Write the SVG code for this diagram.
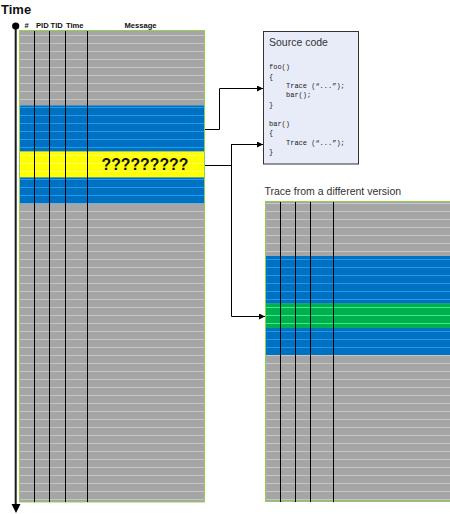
<svg xmlns="http://www.w3.org/2000/svg" width="450" height="514" viewBox="0 0 450 514">
  <style>
    .hdr { font-family: "Liberation Sans", Arial, sans-serif; font-weight: bold; font-size: 7.6px; fill: #111; }
    .title { font-family: "Liberation Sans", Arial, sans-serif; font-size: 10.5px; fill: #333; }
    .code { font-family: "Liberation Mono", "DejaVu Sans Mono", monospace; font-size: 7px; fill: #222; }
    .col { stroke: #000; stroke-width: 1; }
    .border { fill: none; stroke: #92d050; stroke-width: 1; }
    .conn { fill: none; stroke: #000; stroke-width: 1; }
  </style>
  <defs>
    <pattern id="pGray" patternUnits="userSpaceOnUse" x="0" y="0" width="8" height="8">
      <rect width="8" height="8" fill="#a5a5a5"/>
      <rect y="3" width="8" height="1" fill="#c6c6c6"/>
    </pattern>
    <pattern id="pBlue" patternUnits="userSpaceOnUse" x="0" y="0" width="8" height="8">
      <rect width="8" height="8" fill="#0070c0"/>
      <rect y="3" width="8" height="1" fill="#1a9cf5"/>
    </pattern>
    <pattern id="pYellow" patternUnits="userSpaceOnUse" x="0" y="0" width="8" height="8">
      <rect width="8" height="8" fill="#ffff00"/>
      <rect y="3" width="8" height="1" fill="#ffff59"/>
    </pattern>
    <pattern id="pGreen" patternUnits="userSpaceOnUse" x="0" y="0" width="8" height="8">
      <rect width="8" height="8" fill="#00b050"/>
      <rect y="3" width="8" height="1" fill="#3af07a"/>
    </pattern>
    <marker id="arr" markerUnits="userSpaceOnUse" markerWidth="7" markerHeight="7" refX="6" refY="3" orient="auto">
      <path d="M0,0 L6,3 L0,6 z" fill="#000"/>
    </marker>
  </defs>

  <g id="time-axis">
    <text x="1" y="13.5" style="font-family:'Liberation Sans',Arial,sans-serif;font-weight:bold;font-size:13px;fill:#111">Time</text>
    <line x1="15.7" y1="26" x2="15.7" y2="505" stroke="#1a1a1a" stroke-width="2"/>
    <circle cx="15.7" cy="26" r="3.6" fill="#000"/>
    <path d="M11.5,504 L20.5,504 L16,513 z" fill="#000"/>
  </g>

  <g id="trace-main">
    <rect x="19" y="30" width="186" height="472" fill="url(#pGray)"/>
    <rect x="19" y="105.5" width="186" height="46" fill="url(#pBlue)"/>
    <rect x="19" y="151.5" width="186" height="26" fill="url(#pYellow)"/>
    <rect x="19" y="177.5" width="186" height="26" fill="url(#pBlue)"/>
    <rect class="border" x="19.5" y="30.5" width="185" height="471.5"/>
    <line class="col" x1="34.5" y1="31" x2="34.5" y2="502"/>
    <line class="col" x1="49.5" y1="31" x2="49.5" y2="502"/>
    <line class="col" x1="65.5" y1="31" x2="65.5" y2="502"/>
    <line class="col" x1="87.5" y1="31" x2="87.5" y2="502"/>
    <text class="hdr" x="24.5" y="27.5">#</text>
    <text class="hdr" x="36" y="27.5">PID</text>
    <text class="hdr" x="50.5" y="27.5">TID</text>
    <text class="hdr" x="66" y="27.5">Time</text>
    <text class="hdr" x="124.5" y="27.5">Message</text>
    <text x="101.5" y="169.5" style="font-family:'Liberation Sans',Arial,sans-serif;font-weight:bold;font-size:15.8px;fill:#111">?????????</text>
  </g>

  <g id="source-code">
    <rect x="263.5" y="31.5" width="95" height="132.5" fill="#e8ecf8" stroke="#333" stroke-width="1"/>
    <text class="title" x="269" y="46">Source code</text>
    <text class="code" x="269" y="69">foo()</text>
    <text class="code" x="269" y="78.5">{</text>
    <text class="code" x="286" y="88">Trace (“...”);</text>
    <text class="code" x="286" y="97">bar();</text>
    <text class="code" x="269" y="106.5">}</text>
    <text class="code" x="269" y="125.5">bar()</text>
    <text class="code" x="269" y="135">{</text>
    <text class="code" x="286" y="144.5">Trace (“...”);</text>
    <text class="code" x="269" y="154">}</text>
  </g>

  <g id="trace-other">
    <text class="title" x="264.5" y="195">Trace from a different version</text>
    <rect x="265" y="201" width="185" height="301" fill="url(#pGray)"/>
    <rect x="265" y="256" width="185" height="47.5" fill="url(#pBlue)"/>
    <rect x="265" y="303.5" width="185" height="24.5" fill="url(#pGreen)"/>
    <rect x="265" y="328" width="185" height="27" fill="url(#pBlue)"/>
    <path class="border" d="M450,201.5 H265.5 V501.5 H450"/>
    <line class="col" x1="280.5" y1="202" x2="280.5" y2="502"/>
    <line class="col" x1="295.5" y1="202" x2="295.5" y2="502"/>
    <line class="col" x1="310.5" y1="202" x2="310.5" y2="502"/>
    <line class="col" x1="333.5" y1="202" x2="333.5" y2="502"/>
  </g>

  <g id="connectors">
    <path class="conn" d="M205,129.5 H219.5 V88.5 H263" marker-end="url(#arr)"/>
    <path class="conn" d="M205,165.5 H231.5"/>
    <path class="conn" d="M231.5,144.5 H263" marker-end="url(#arr)"/>
    <path class="conn" d="M231.5,144 V316.5 H265" marker-end="url(#arr)"/>
  </g>
</svg>
